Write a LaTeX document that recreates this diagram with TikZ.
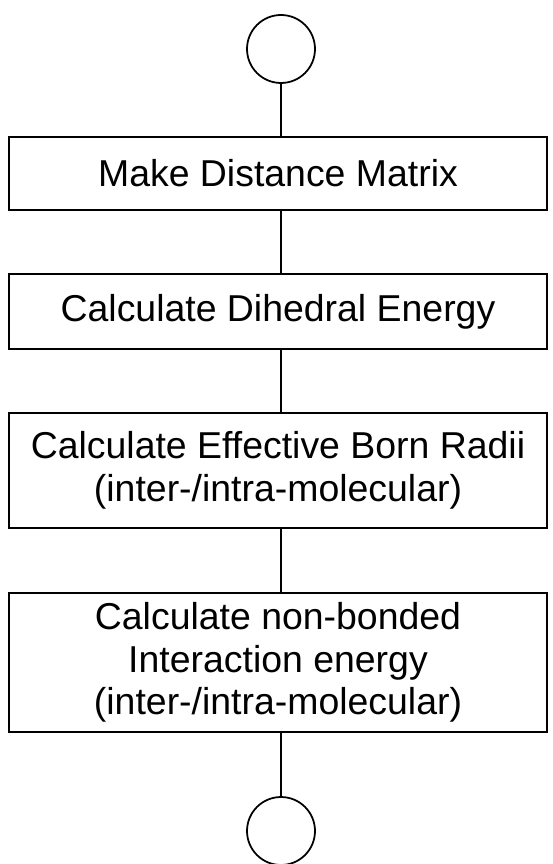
\documentclass[tikz,border=0pt]{standalone}
\usepackage{fontspec}
\setmainfont{Liberation Sans}
\usetikzlibrary{positioning}

\begin{document}
\begin{tikzpicture}[x=0.02cm,y=-0.02cm]
\tikzstyle{every node}=[font=\fontsize{21.3}{24.3}\selectfont]
\tikzstyle{stepbox}=[draw, line width=1pt, inner sep=0pt, align=center, minimum width=10.76cm]
\tikzstyle{terminal}=[draw, circle, line width=1pt, inner sep=0pt, minimum size=1.36cm]
\useasboundingbox (0,0) rectangle (553,864);
\node[terminal] (start) at (281,49) {};
\node[stepbox, minimum height=1.46cm] (dist) at (278,173.5) {Make Distance Matrix};
\node[stepbox, minimum height=1.5cm] (dihed) at (278,311.5) {Calculate Dihedral Energy};
\node[stepbox, minimum height=2.3cm] (born) at (278,470.5) {Calculate Effective Born Radii\\(inter-/intra-molecular)};
\node[stepbox, minimum height=2.78cm] (nonb) at (278,662.5) {Calculate non-bonded\\Interaction energy\\(inter-/intra-molecular)};
\node[terminal] (stop) at (281,831) {};

\draw [line width=1pt] (start.south) -- (start.south |- dist.north);
\draw [line width=1pt] (dist.south -| start) -- (dihed.north -| start);
\draw [line width=1pt] (dihed.south -| start) -- (born.north -| start);
\draw [line width=1pt] (born.south -| start) -- (nonb.north -| start);
\draw [line width=1pt] (nonb.south -| stop) -- (stop.north);

\end{tikzpicture}
\end{document}
